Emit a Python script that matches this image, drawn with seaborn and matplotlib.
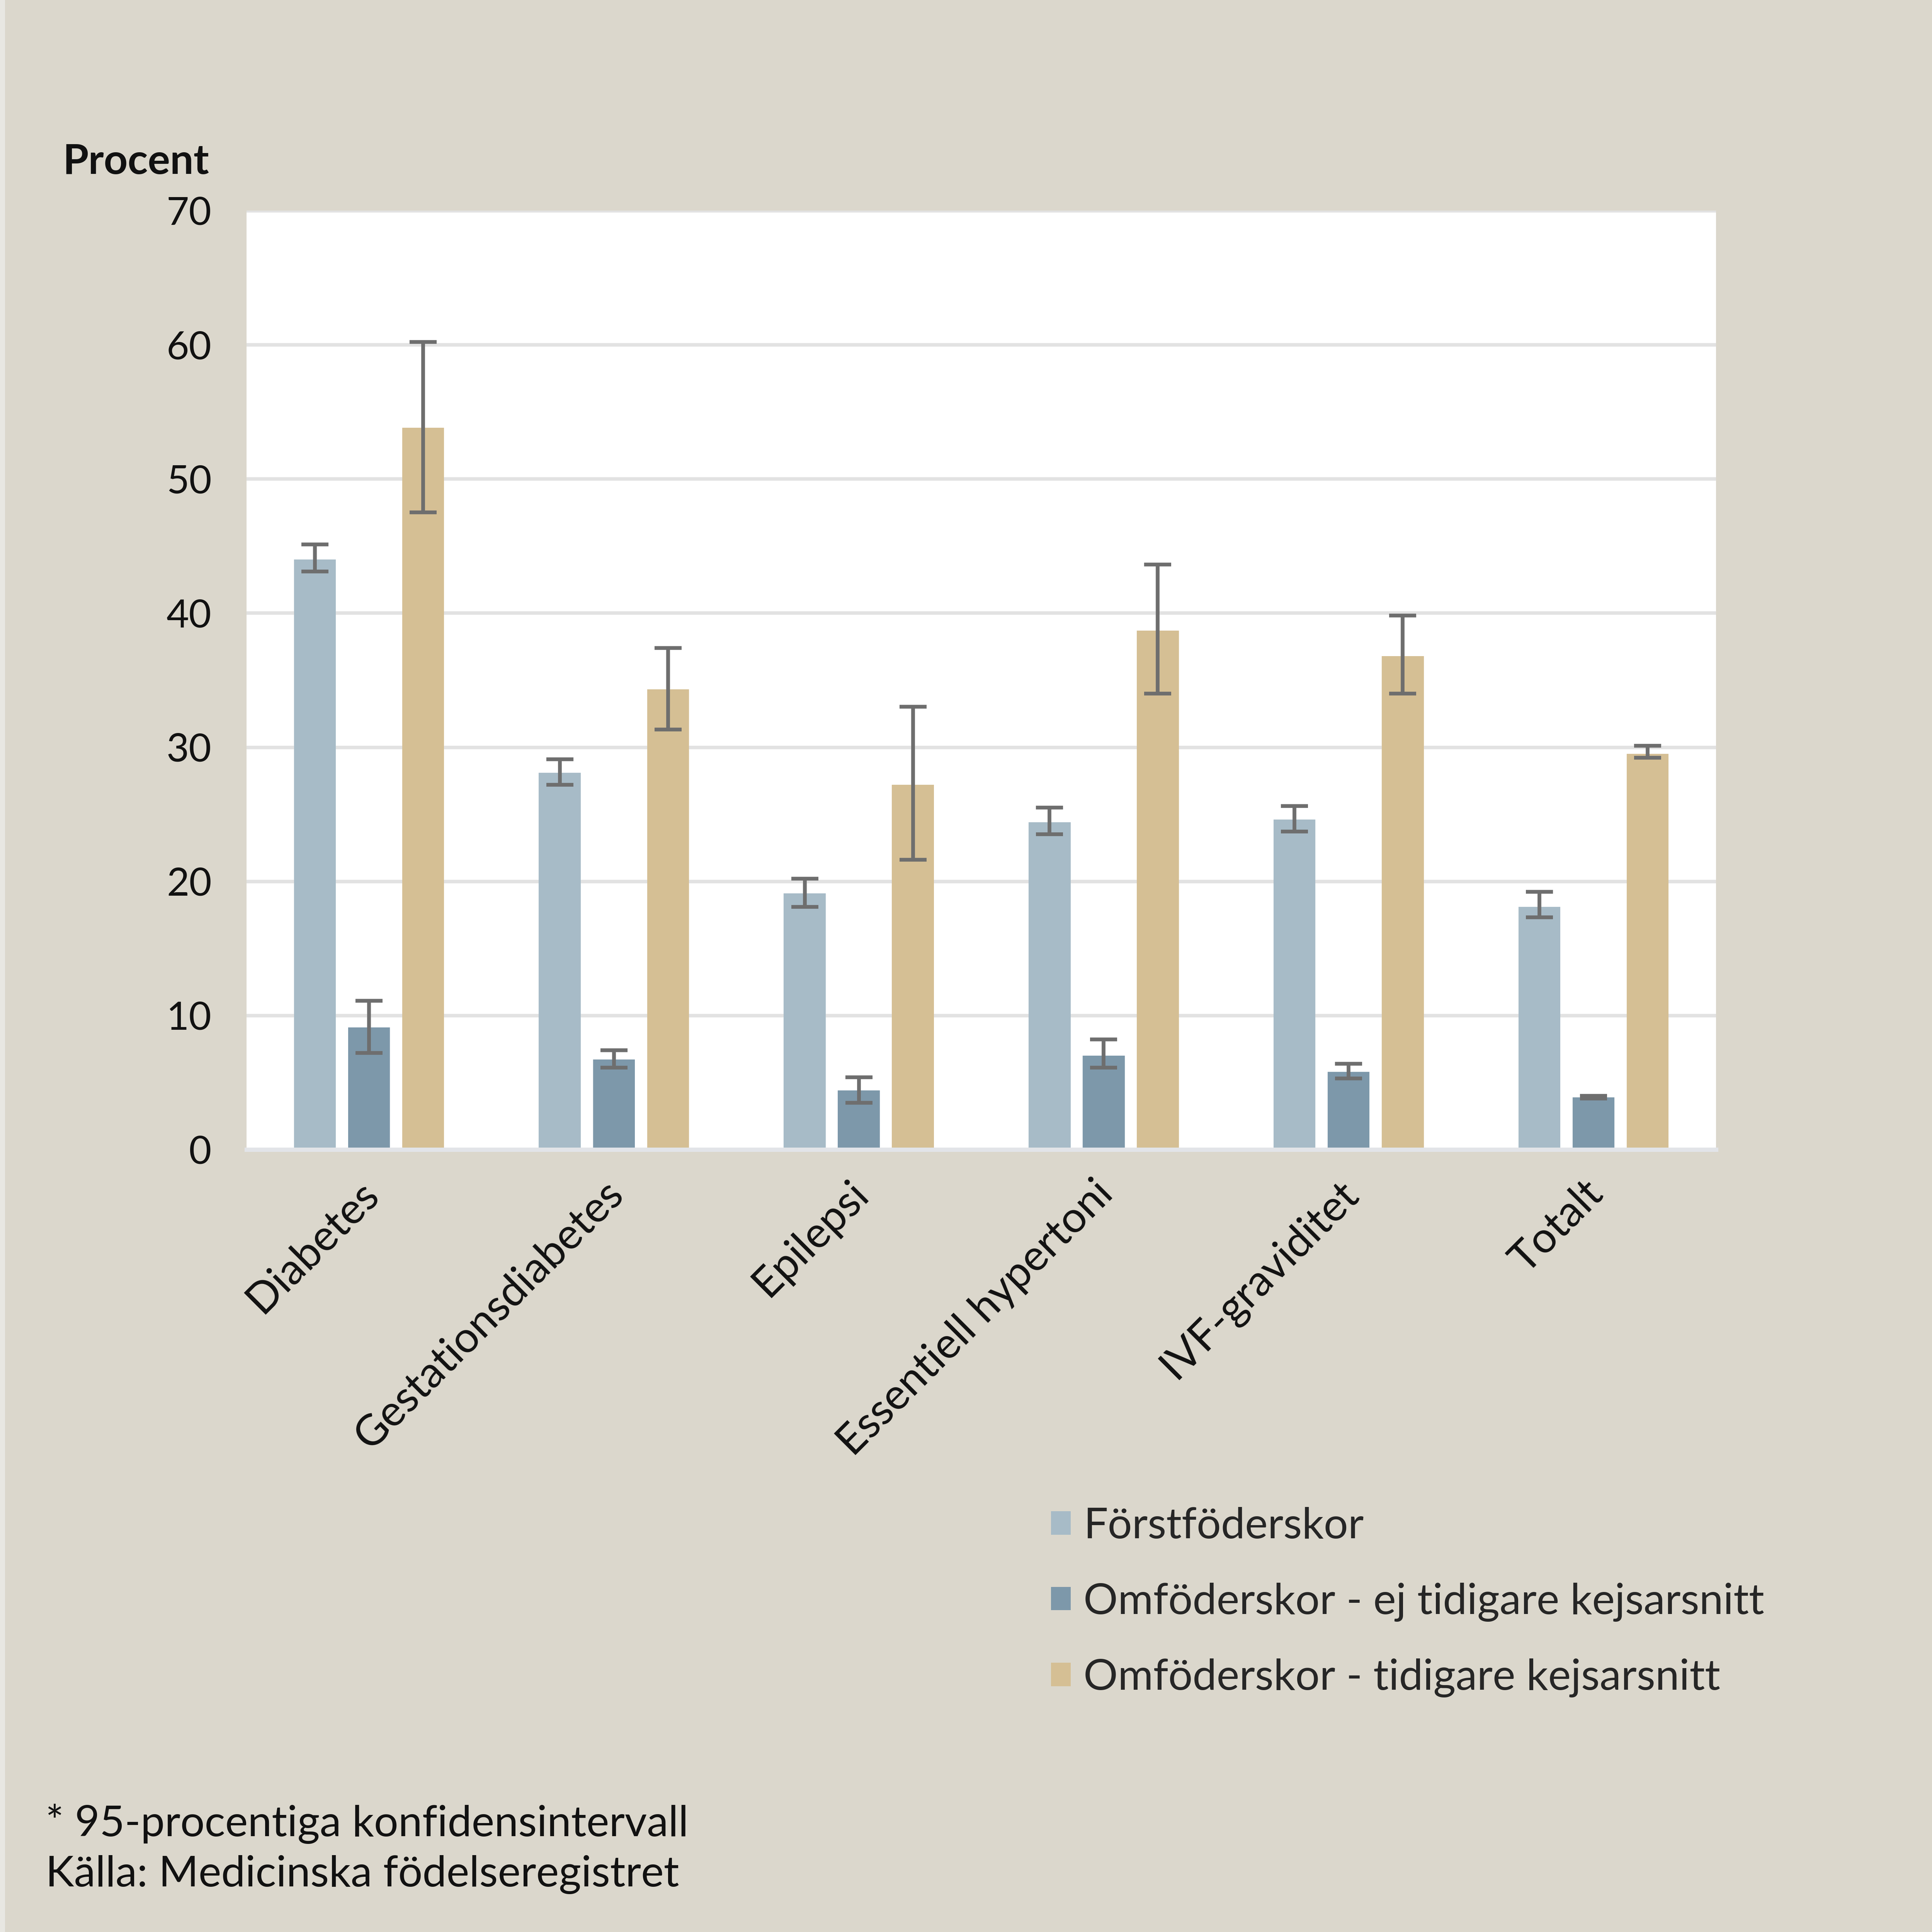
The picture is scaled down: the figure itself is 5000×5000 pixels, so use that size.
import numpy as np
import pandas as pd
import matplotlib
matplotlib.use("Agg")
import matplotlib.pyplot as plt
import matplotlib.transforms as mtransforms
from matplotlib.patches import Rectangle
import seaborn as sns

# data (percent, with 95% CI)
orsak = ["Diabetes", "Gestationsdiabetes", "Epilepsi", "Essentiell hypertoni",
         "IVF-graviditet", "Totalt"]
grupper = ["Förstföderskor",
           "Omföderskor - ej tidigare kejsarsnitt",
           "Omföderskor - tidigare kejsarsnitt"]

forst = [44.0, 28.1, 19.1, 24.4, 24.6, 18.1]
forst_lo = [43.1, 27.2, 18.1, 23.5, 23.7, 17.3]
forst_hi = [45.1, 29.1, 20.2, 25.5, 25.6, 19.2]

om_ej = [9.1, 6.7, 4.4, 7.0, 5.8, 3.9]
om_ej_lo = [7.2, 6.1, 3.5, 6.1, 5.3, 3.8]
om_ej_hi = [11.1, 7.4, 5.4, 8.2, 6.4, 4.0]

om_tid = [53.8, 34.3, 27.2, 38.7, 36.8, 29.5]
om_tid_lo = [47.5, 31.3, 21.6, 34.0, 34.0, 29.2]
om_tid_hi = [60.2, 37.4, 33.0, 43.6, 39.8, 30.1]

colors = ["#a7bbc7", "#7d98aa", "#d5bf94"]
bg = "#dbd7cc"

df = pd.DataFrame({
    "Orsak": orsak * 3,
    "Grupp": np.repeat(grupper, len(orsak)),
    "Procent": forst + om_ej + om_tid,
})

sns.set_style("white")
plt.rcParams["font.family"] = ["Lato", "DejaVu Sans"]

fig = plt.figure(figsize=(10, 10), dpi=500, facecolor=bg)
ax = fig.add_axes([0.1276, 0.405, 0.7606, 0.486])
ax.set_facecolor("white")
fig.add_artist(Rectangle((0, 0), 0.0025, 1, transform=fig.transFigure,
                         facecolor="#e8e7e2", edgecolor="none"))

sns.barplot(data=df, x="Orsak", y="Procent", hue="Grupp", hue_order=grupper,
            palette=colors, saturation=1, width=0.663, gap=0.226,
            errorbar=None, linewidth=0, ax=ax)

# confidence intervals
for cont, val, lo, hi in zip(ax.containers,
                             [forst, om_ej, om_tid],
                             [forst_lo, om_ej_lo, om_tid_lo],
                             [forst_hi, om_ej_hi, om_tid_hi]):
    xs = [b.get_x() + b.get_width() / 2 for b in cont]
    val = np.array(val)
    err = [val - np.array(lo), np.array(hi) - val]
    ax.errorbar(xs, val, yerr=err, fmt="none", ecolor="#6e6e6e",
                elinewidth=1.4, capsize=5, capthick=1.4, zorder=5)

ax.set_ylim(0, 70)
ax.set_xlim(-0.5, 5.5)
ax.set_yticks(np.arange(0, 71, 10))
ax.yaxis.grid(True, color="#e2e2e2", linewidth=1.3)
ax.set_axisbelow(True)
for s in ["left", "right", "top"]:
    ax.spines[s].set_visible(False)
ax.spines["bottom"].set_color("#e2e4e8")
ax.spines["bottom"].set_linewidth(1.6)
ax.tick_params(axis="y", length=0, pad=13, labelsize=14.5, labelcolor="#111111")
ax.tick_params(axis="x", length=0, pad=6, labelsize=16, labelcolor="#111111")
ax.set_xlabel("")
ax.set_ylabel("")

offset = mtransforms.ScaledTranslation(-4 / 72, -3 / 72, fig.dpi_scale_trans)
for lab in ax.get_xticklabels():
    lab.set_rotation(45)
    lab.set_ha("right")
    lab.set_va("top")
    lab.set_rotation_mode("anchor")
    lab.set_transform(lab.get_transform() + offset)

sns.move_legend(ax, "upper left", bbox_to_anchor=(0.524, 0.240),
                bbox_transform=fig.transFigure, frameon=False, title=None,
                fontsize=16, handlelength=0.46, handleheight=0.46,
                handletextpad=0.3, labelspacing=0.86)

fig.text(0.0325, 0.910, "Procent", fontsize=15.5, fontweight="bold",
         va="baseline", ha="left", color="#111111")
fig.text(0.0236, 0.0497, "* 95-procentiga konfidensintervall", fontsize=16,
         va="baseline", ha="left", color="#111111")
fig.text(0.0236, 0.0236, "Källa: Medicinska födelseregistret", fontsize=16,
         va="baseline", ha="left", color="#111111")

fig.savefig("out.png", dpi=500, facecolor=bg)
